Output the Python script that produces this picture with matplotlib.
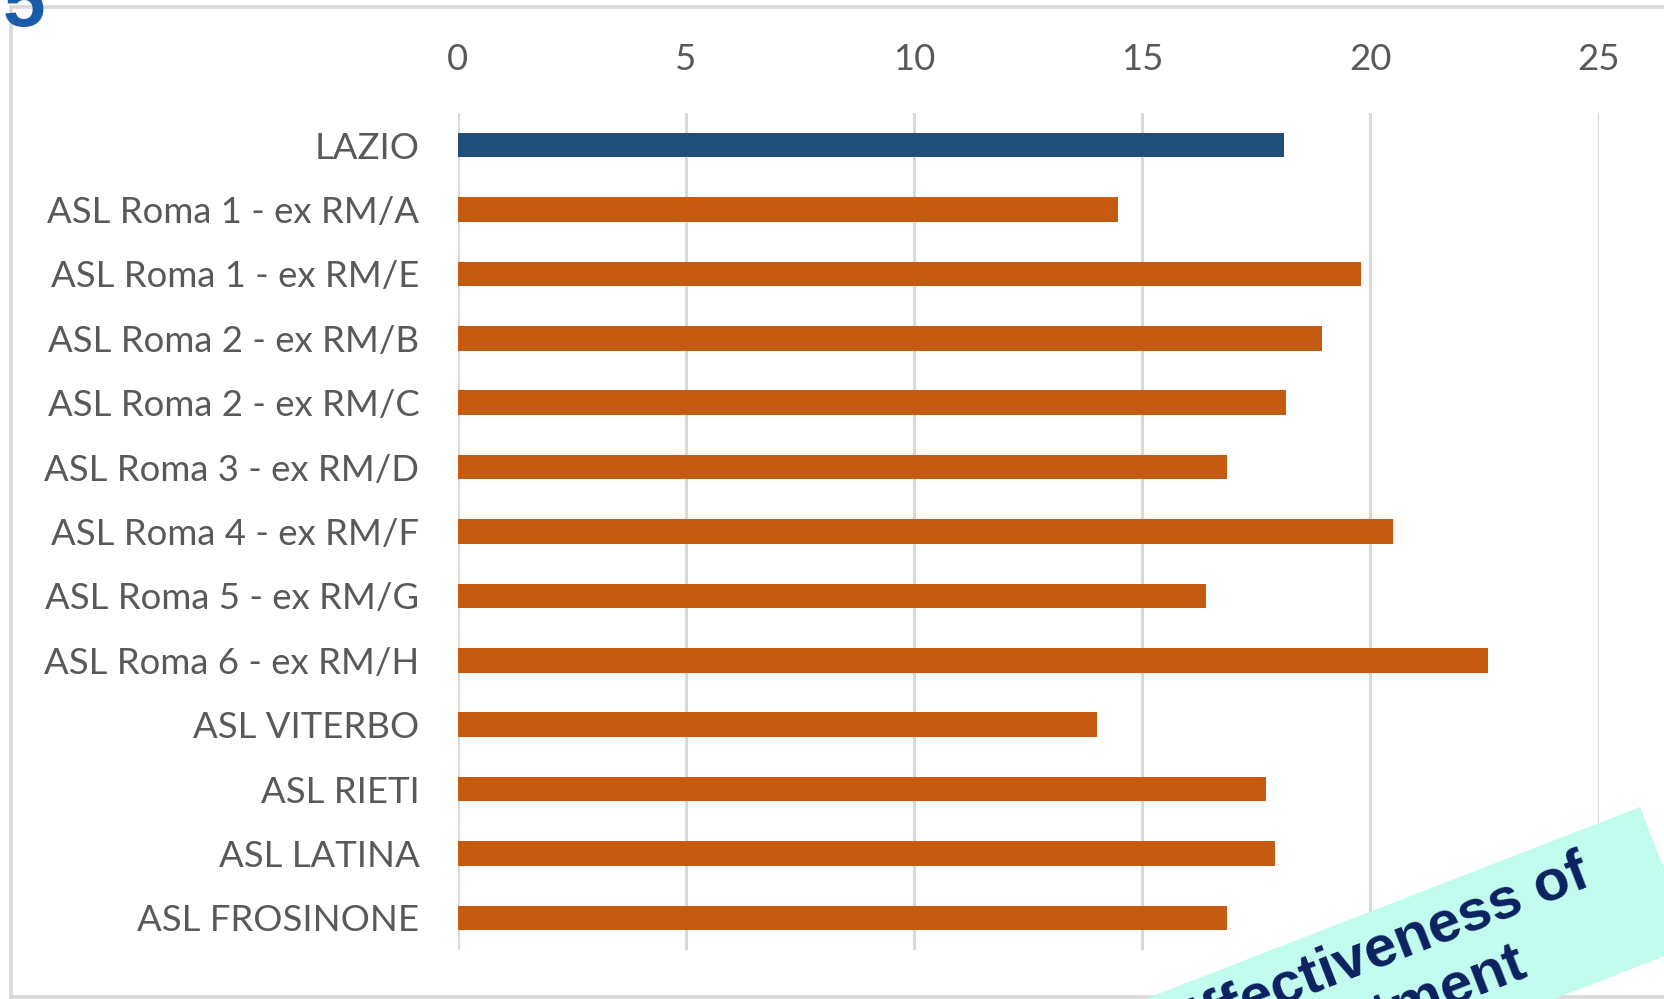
import matplotlib
matplotlib.use("Agg")
import matplotlib.pyplot as plt
from matplotlib.patches import Polygon
import numpy as np

categories = ["LAZIO", "ASL Roma 1 - ex RM/A", "ASL Roma 1 - ex RM/E", "ASL Roma 2 - ex RM/B",
              "ASL Roma 2 - ex RM/C", "ASL Roma 3 - ex RM/D", "ASL Roma 4 - ex RM/F",
              "ASL Roma 5 - ex RM/G", "ASL Roma 6 - ex RM/H", "ASL VITERBO", "ASL RIETI",
              "ASL LATINA", "ASL FROSINONE"]
values = [18.1, 14.46, 19.8, 18.94, 18.15, 16.85, 20.49, 16.4, 22.57, 14.0, 17.72, 17.91, 16.85]
xticks = [0, 5, 10, 15, 20, 25]

W, H = 1664, 999
fig = plt.figure(figsize=(W / 100, H / 100), dpi=100)
fig.patch.set_facecolor("white")

def fx(px):
    return px / W

def fy(py):
    return 1 - py / H

ax_left, ax_right, ax_top, ax_bot = 457.5, 1598.6, 113, 950
ax = fig.add_axes([fx(ax_left), fy(ax_bot), fx(ax_right) - fx(ax_left), (ax_bot - ax_top) / H])

colors = ["#1f4e79"] + ["#c55a11"] * (len(categories) - 1)
y = np.arange(len(categories))
ax.barh(y, values, height=0.38, color=colors, zorder=3)
ax.set_xlim(0, 25)
ax.set_ylim(len(categories) - 0.5, -0.5)
ax.set_xticks(xticks)
ax.set_xticklabels([str(t) for t in xticks])
ax.set_yticks(y)
ax.set_yticklabels(categories)
ax.xaxis.tick_top()
for s in ax.spines.values():
    s.set_visible(False)
ax.grid(axis="x", color="#d9d9d9", linewidth=2.2, zorder=0)
ax.tick_params(axis="both", length=0, labelcolor="#595959", labelsize=26.3)
ax.tick_params(axis="x", pad=26.5)
ax.tick_params(axis="y", pad=27.5)
for lab in ax.get_xticklabels() + ax.get_yticklabels():
    lab.set_family("Lato")

# frame border
border_color = "#d9d9d9"
fig.add_artist(plt.Line2D([fx(11), fx(11)], [fy(7), fy(997)], color=border_color, lw=2.6,
                          transform=fig.transFigure))
fig.add_artist(plt.Line2D([fx(11), 1.0], [fy(7), fy(7)], color=border_color, lw=2.6,
                          transform=fig.transFigure))
fig.add_artist(plt.Line2D([fx(11), 1.0], [fy(997), fy(997)], color=border_color, lw=2.6,
                          transform=fig.transFigure))

# partially visible blue number in the corner
fig.text(fx(3), fy(26), "5", color="#1a5ca8", fontsize=55, fontweight="bold",
         family="Liberation Sans", ha="left", va="baseline")

# rotated teal banner
ang = 21.2
d = np.array([np.cos(np.radians(ang)), -np.sin(np.radians(ang))])
n = np.array([np.sin(np.radians(ang)), np.cos(np.radians(ang))])
tr = np.array([1640.0, 807.0])
hgt = 148.0
L = 900.0
pts = [tr, tr + hgt * n, tr + hgt * n - L * d, tr - L * d]
poly = Polygon([[fx(p[0]), fy(p[1])] for p in pts], closed=True, transform=fig.transFigure,
               facecolor="#c2fcee", edgecolor="none", zorder=5)
fig.add_artist(poly)

c1 = np.array([1383.0, 966.0])
c2 = c1 + 63 * n
for txt, c in [("Effectiveness of", c1), ("treatment", c2)]:
    fig.text(fx(c[0]), fy(c[1]), txt, color="#0b2160", fontsize=42, fontweight="bold",
             family="Liberation Sans", ha="center", va="baseline", rotation=ang,
             rotation_mode="anchor", zorder=6)

fig.savefig("out.png", dpi=100)
